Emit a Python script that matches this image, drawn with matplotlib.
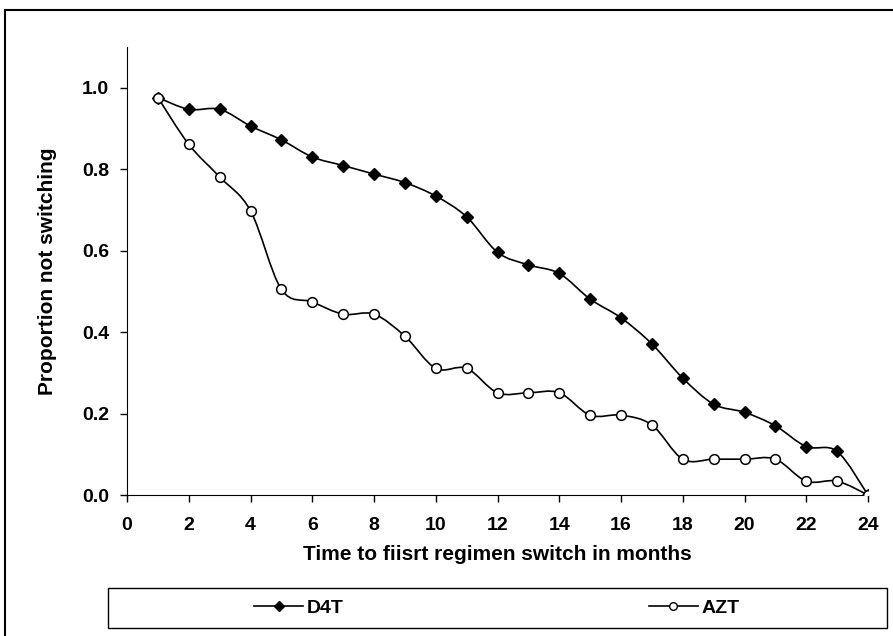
# Proportion not switching regimen, D4T vs AZT (Excel style smoothed lines)
import numpy as np
import matplotlib
matplotlib.use("Agg")
import matplotlib.pyplot as plt
from matplotlib.path import Path
from matplotlib.patches import PathPatch, Rectangle
from matplotlib.lines import Line2D

months = np.arange(1, 25)
d4t = [0.976, 0.947, 0.947, 0.906, 0.872, 0.830, 0.809, 0.788, 0.767, 0.734,
       0.683, 0.596, 0.565, 0.544, 0.481, 0.435, 0.371, 0.287, 0.223, 0.203,
       0.170, 0.119, 0.107, 0.0]
azt = [0.976, 0.861, 0.781, 0.698, 0.505, 0.474, 0.444, 0.444, 0.390, 0.311,
       0.311, 0.251, 0.251, 0.251, 0.196, 0.196, 0.172, 0.088, 0.088, 0.088,
       0.088, 0.034, 0.034, 0.0]
xticks = np.arange(0, 25, 2)
yticks = [0.0, 0.2, 0.4, 0.6, 0.8, 1.0]

matplotlib.rcParams['font.family'] = "sans-serif"
matplotlib.rcParams['font.sans-serif'] = ["Liberation Sans", "DejaVu Sans"]
matplotlib.rcParams['font.weight'] = "bold"


def smooth_path(x, y):
    # bezier segments like Excel's smoothed line
    pts = np.column_stack([x, y]).astype(float)
    p = np.vstack([pts[0], pts, pts[-1]])
    verts = [tuple(pts[0])]
    codes = [Path.MOVETO]
    for i in range(1, len(p) - 2):
        c1 = p[i] + (p[i + 1] - p[i - 1]) / 6.0
        c2 = p[i + 1] - (p[i + 2] - p[i]) / 6.0
        verts += [tuple(c1), tuple(c2), tuple(p[i + 1])]
        codes += [Path.CURVE4] * 3
    return Path(verts, codes)


fig = plt.figure(figsize=(8.93, 6.36), dpi=100)
ax = fig.add_axes([127 / 893, 1 - 495 / 636, 741 / 893, 448 / 636])

for ys in (d4t, azt):
    ax.add_patch(PathPatch(smooth_path(months, ys), fill=False, edgecolor="black", lw=1.2, zorder=2))

ax.plot(months, d4t, linestyle="none", marker="D", markersize=6.5, color="black", zorder=3)
ax.plot(months, azt, linestyle="none", marker="o", markersize=7, markerfacecolor="white",
        markeredgecolor="black", markeredgewidth=1.1, zorder=3)

ax.set_xlim(0, 24)
ax.set_ylim(0, 1.1)
ax.set_xticks(xticks)
ax.set_yticks(yticks)
ax.set_yticklabels([f"{v:.1f}" for v in yticks])
ax.spines["top"].set_visible(False)
ax.spines["right"].set_visible(False)
ax.tick_params(axis="both", which="major", labelsize=14, direction="out", length=5, width=1)
ax.tick_params(axis="x", pad=11)
ax.tick_params(axis="y", pad=8)
ax.set_xlabel("Time to fiisrt regimen switch in months", fontsize=15, fontweight="bold", labelpad=8)
ax.set_ylabel("Proportion not switching", fontsize=15, fontweight="bold", labelpad=18)

# legend box at the bottom
fig.patches.append(Rectangle((108 / 893, 1 - 628 / 636), 779 / 893, 40 / 636,
                             transform=fig.transFigure, fill=False, edgecolor="black", lw=1))
handles = [
    Line2D([], [], color="black", lw=1.2, marker="D", markersize=5.5),
    Line2D([], [], color="black", lw=1.2, marker="o", markersize=5.5, markerfacecolor="white"),
]
fig.legend(handles, ["D4T", "AZT"], ncol=2, loc="center", bbox_to_anchor=(497 / 893, 1 - 608 / 636),
           frameon=False, fontsize=14, handlelength=2.5, handletextpad=0.2, columnspacing=15.7)

# outer chart border
fig.add_artist(Line2D([5 / 893, 5 / 893], [0, 1 - 10 / 636], transform=fig.transFigure, color="black", lw=1.5))
fig.add_artist(Line2D([5 / 893, 1], [1 - 10 / 636, 1 - 10 / 636], transform=fig.transFigure, color="black", lw=1.5))

plt.savefig("out.png", dpi=100)
